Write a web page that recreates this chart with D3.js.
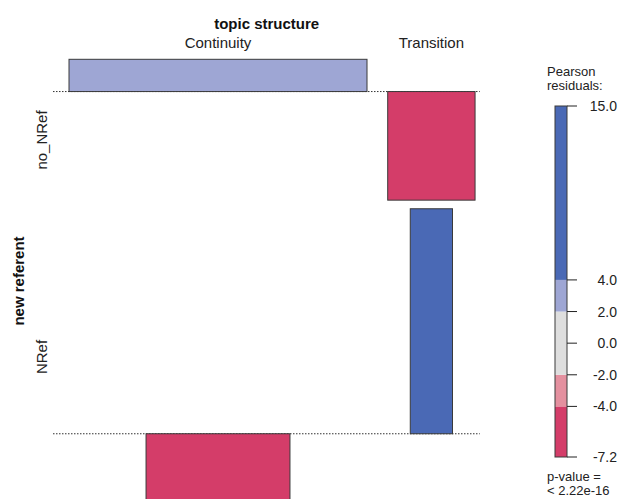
<!DOCTYPE html>
<html>
<head>
<meta charset="utf-8">
<script src="https://cdn.jsdelivr.net/npm/d3@7"></script>
<style>
  html, body { margin: 0; padding: 0; background: #fff; }
  svg { display: block; font-family: "Liberation Sans", Arial, sans-serif; }
</style>
</head>
<body>
<script>
// ---- data ----
const colVar = "topic structure";
const rowVar = "new referent";
const colLevels = ["Continuity", "Transition"];
const rowLevels = ["no_NRef", "NRef"];
// expected counts (under independence) per row x column
const expectedNoNRef = [896, 77];
const expectedNRef = [209, 18];
// Pearson residuals per row x column
const residualNoNRef = [2.15, -7.24];
const residualNRef = [-4.39, 15.0];
// legend
const legendTicks = [-7.2, -4, -2, 0, 2, 4, 15];
const legendTickLabels = ["-7.2", "-4.0", "-2.0", "0.0", "2.0", "4.0", "15.0"];
const legendBreaks = [-7.2, -4, -2, 2, 4, 15];
const legendTitle = ["Pearson", "residuals:"];
const pValueText = ["p-value =", "< 2.22e-16"];

// ---- style ----
const W = 629, H = 499;
const colors = { darkBlue: "#4a69b5", lightBlue: "#9ea6d4", grey: "#dedede", lightRed: "#e4909f", darkRed: "#d43d69" };
function shade(r) {
  if (r > 4) return colors.darkBlue;
  if (r > 2) return colors.lightBlue;
  if (r < -4) return colors.darkRed;
  if (r < -2) return colors.lightRed;
  return colors.grey;
}

const expected = [expectedNoNRef, expectedNRef];
const residuals = [residualNoNRef, residualNRef];

const svg = d3.select("body").append("svg").attr("width", W).attr("height", H);

// width scale: sqrt(expected) -> px
const maxSqrt = d3.max(expected.flat(), e => Math.sqrt(e));
const wScale = d3.scaleLinear().domain([0, maxSqrt]).range([0, 298]);
// height scale: residual units -> px
const hScale = d3.scaleLinear().domain([0, 1]).range([0, 15]);

// column layout
const fillFrac = 0.903;
const x0 = 53;
const colMax = colLevels.map((c, j) => d3.max(expected, row => wScale(Math.sqrt(row[j]))));
const colW = colMax.map(m => m / fillFrac);
const colStart = colW.map((w, j) => x0 + d3.sum(colW.slice(0, j)));
const colCenter = colStart.map((s, j) => s + colW[j] / 2);
const xEnd = x0 + d3.sum(colW);

// row layout
const pad = 4.3;
let yCursor = 55;
const rowInfo = rowLevels.map((r, i) => {
  const up = Math.max(0, d3.max(residuals[i]));
  const down = Math.max(0, -d3.min(residuals[i]));
  const top = yCursor;
  const base = top + pad + hScale(up);
  const bottom = base + hScale(down) + pad;
  yCursor = bottom;
  return { top, base, bottom };
});

// bars
const g = svg.append("g");
rowLevels.forEach((r, i) => {
  const base = rowInfo[i].base;
  g.append("line")
    .attr("x1", x0).attr("x2", xEnd)
    .attr("y1", base).attr("y2", base)
    .attr("stroke", "#333").attr("stroke-width", 1)
    .attr("stroke-dasharray", "1.5,1.5");
  colLevels.forEach((c, j) => {
    const res = residuals[i][j];
    const w = wScale(Math.sqrt(expected[i][j]));
    const h = hScale(Math.abs(res));
    g.append("rect")
      .attr("x", colCenter[j] - w / 2)
      .attr("y", res >= 0 ? base - h : base)
      .attr("width", w)
      .attr("height", h)
      .attr("fill", shade(res))
      .attr("stroke", "#3a3a3a")
      .attr("stroke-width", 1);
  });
});

// column labels
svg.append("text").attr("x", (colCenter[0] + colCenter[1]) / 2 - 58).attr("y", 29)
  .attr("text-anchor", "middle").attr("font-size", 15).attr("font-weight", "bold")
  .attr("fill", "#111").text(colVar);
colLevels.forEach((c, j) => {
  svg.append("text").attr("x", colCenter[j]).attr("y", 48)
    .attr("text-anchor", "middle").attr("font-size", 15).attr("fill", "#222").text(c);
});

// row labels
const rowLabelY = [140, 357];
rowLevels.forEach((r, i) => {
  svg.append("text")
    .attr("transform", `translate(47,${rowLabelY[i]}) rotate(-90)`)
    .attr("text-anchor", "middle").attr("font-size", 15).attr("fill", "#222").text(r);
});
svg.append("text")
  .attr("transform", `translate(24,281) rotate(-90)`)
  .attr("text-anchor", "middle").attr("font-size", 15).attr("font-weight", "bold")
  .attr("fill", "#111").text(rowVar);

// legend
const lx = 555, lw = 12;
const ly = d3.scaleLinear().domain([-7.2, 15]).range([457, 106]);
const lg = svg.append("g");
for (let k = 0; k < legendBreaks.length - 1; k++) {
  const a = legendBreaks[k], b = legendBreaks[k + 1];
  const mid = (a + b) / 2;
  lg.append("rect")
    .attr("x", lx).attr("y", ly(b))
    .attr("width", lw).attr("height", ly(a) - ly(b))
    .attr("fill", shade(mid));
}
lg.append("rect").attr("x", lx).attr("y", ly(15)).attr("width", lw)
  .attr("height", ly(-7.2) - ly(15)).attr("fill", "none")
  .attr("stroke", "#3a3a3a").attr("stroke-width", 1);
legendTicks.forEach((t, k) => {
  lg.append("line").attr("x1", lx + lw).attr("x2", lx + lw + 10)
    .attr("y1", ly(t)).attr("y2", ly(t)).attr("stroke", "#222").attr("stroke-width", 1);
  lg.append("text").attr("x", 617).attr("y", ly(t) + 5)
    .attr("text-anchor", "end").attr("font-size", 14).attr("fill", "#222")
    .text(legendTickLabels[k]);
});
legendTitle.forEach((s, k) => {
  lg.append("text").attr("x", 547).attr("y", 76 + k * 14)
    .attr("font-size", 13).attr("fill", "#222").text(s);
});
pValueText.forEach((s, k) => {
  lg.append("text").attr("x", 547).attr("y", 481 + k * 14)
    .attr("font-size", 13).attr("fill", "#222").text(s);
});
</script>
</body>
</html>
